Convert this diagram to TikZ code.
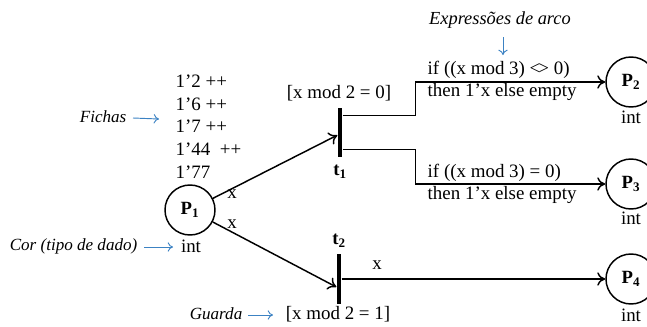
\documentclass[tikz,border=0pt]{standalone}
\usepackage{fontspec}
\setmainfont{Liberation Serif}
\usetikzlibrary{arrows.meta}
\definecolor{noteblue}{RGB}{60,130,195}
\tikzset {
  place style/.style = {
    circle,
    draw=black,
    line width=1.1pt,
    minimum size=37.5pt,
    inner sep=0pt,
    font=\fontsize{14}{16}\selectfont\bfseries
  },
  trans style/.style = {
    rectangle,
    fill=black,
    minimum width=3.6pt,
    minimum height=36.8pt,
    inner sep=0pt
  },
  arc style/.style = {
    line width=1.1pt,
    -{To[length=6pt,width=10pt]}
  },
  note style/.style = {
    font=\fontsize{12.8}{15}\selectfont\itshape
  },
  note arrow/.style = {
    noteblue,
    line width=0.7pt,
    -{To[length=4pt,width=7pt]}
  }
}

\begin{document}
\begin{tikzpicture}[x=0.75pt, y=-0.75pt, font=\fontsize{14.2}{16}\selectfont]

\useasboundingbox (0,0) rectangle (647,326);

% --- Places ---
\node[place style] (p1) at (190,210) {P\textsubscript{1}};
\node[place style] (p2) at (631,82)  {P\textsubscript{2}};
\node[place style] (p3) at (631,184) {P\textsubscript{3}};
\node[place style] (p4) at (631,279) {P\textsubscript{4}};

% Colour sets
\node (int1) at (191,246) {int};
\node (int2) at (631,117) {int};
\node (int3) at (631,218) {int};
\node (int4) at (631,315) {int};

% Marking of P1
\node[anchor=west, align=left, font=\fontsize{14.2}{17}\selectfont] (tokens) at (171,126.5)
  {1’2 ++\\ 1’6 ++\\ 1’7 ++\\ 1’44 \ ++\\ 1’77};

% --- Transitions ---
\node[trans style] (t1) at (340,132.5) {};
\node[trans style] (t2) at (339,279) {};
\node[font=\fontsize{14}{16}\selectfont\bfseries] (t1lab) at (340,172) {t\textsubscript{1}};
\node[font=\fontsize{14}{16}\selectfont\bfseries] (t2lab) at (339,241) {t\textsubscript{2}};

% Guards
\node (g1) at (339,93)  {[x mod 2 = 0]};
\node (g2) at (338,314) {[x mod 2 = 1]};

% --- Arcs ---
\draw[arc style] (p1) -- ([yshift=-2pt]t1.west);
\draw[arc style] (p1) -- ([yshift=-6pt]t2.west);
\draw[arc style] ([yshift=-6pt]t1.north east) -- ++(73,0) |- (p2);
\draw[arc style] ([yshift=6pt]t1.south east) -- ++(73,0) |- (p3);
\draw[arc style] (t2) -- (p4);

% Arc inscriptions
\node (x1) at (232,194) {x};
\node (x2) at (232,224) {x};
\node (x3) at (377,265) {x};
\node[anchor=west] (e2a) at (423,70)  {if ((x mod 3) \textless\kern-1.5pt\textgreater{} 0)};
\node[anchor=west] (e2b) at (423,92)  {then 1’x else empty};
\node[anchor=west] (e3a) at (423,173) {if ((x mod 3) = 0)};
\node[anchor=west] (e3b) at (423,195) {then 1’x else empty};

% --- Notes ---
\node[note style, font=\fontsize{13.8}{16}\selectfont\itshape] (nexpr) at (500,20) {Expressões de arco};
\node[note style, anchor=east] (nfich) at (131,117) {Fichas};
\node[note style, anchor=east] (ncor)  at (142,246) {Cor (tipo de dado)};
\node[note style, anchor=east] (nguard) at (247,314) {Guarda};

\coordinate (cexpr)  at (503,55);
\coordinate (cfich)  at (159,119);
\coordinate (ccor)   at (173,247);
\coordinate (cguard) at (273,315);

\draw[note arrow] (nexpr.south -| cexpr) ++(0,4) -- (cexpr);
\draw[note arrow] (nfich.east) ++(2,1) -- (cfich);
\draw[note arrow] (ncor.east) ++(2,1) -- (ccor);
\draw[note arrow] (nguard.east) ++(1,1) -- (cguard);

\end{tikzpicture}
\end{document}
